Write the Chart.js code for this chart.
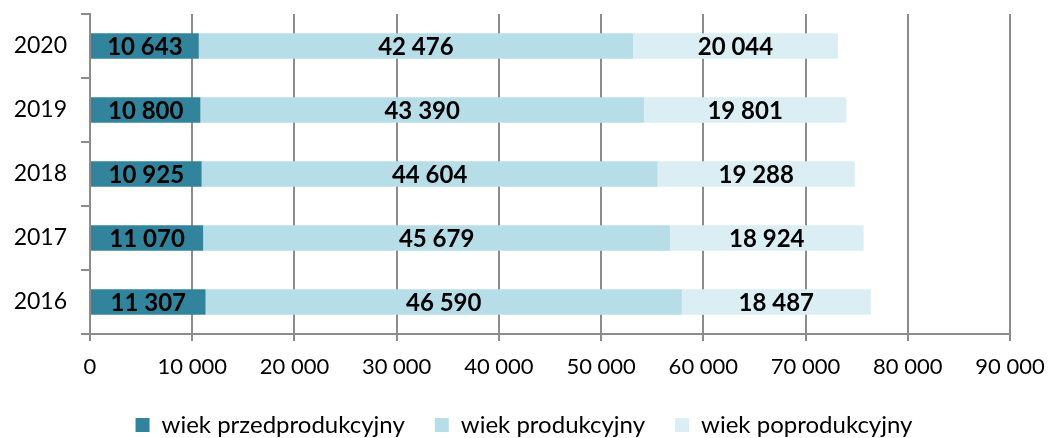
<!DOCTYPE html>
<html>
<head>
<meta charset="utf-8">
<script src="https://cdn.jsdelivr.net/npm/chart.js@4/dist/chart.umd.min.js"></script>
<style>
  body { margin: 0; background: #fff; }
  #wrap { width: 1048px; height: 438px; }
</style>
</head>
<body>
<div id="wrap"><canvas id="ov"></canvas></div>
<script>
let years = ["2020", "2019", "2018", "2017", "2016"];
let przed = [10643, 10800, 10925, 11070, 11307];
let prod = [42476, 43390, 44604, 45679, 46590];
let poprod = [20044, 19801, 19288, 18924, 18487];
let seriesNames = ["wiek przedprodukcyjny", "wiek produkcyjny", "wiek poprodukcyjny"];

let fontName = "Lato, 'Open Sans', sans-serif";
let gridGray = "#8c8c8c";

function fmt(n) {
  return String(n).replace(/\B(?=(\d{3})+(?!\d))/g, " ");
}

// draws the value in the middle of each bar segment
let barLabels = {
  id: "barLabels",
  afterDatasetsDraw(chart) {
    let c = chart.ctx;
    c.save();
    c.font = "bold 24px " + fontName;
    c.fillStyle = "#000";
    c.textAlign = "center";
    c.textBaseline = "middle";
    chart.data.datasets.forEach((ds, i) => {
      chart.getDatasetMeta(i).data.forEach((bar, j) => {
        let mid = (bar.x + bar.base) / 2;
        c.fillText(fmt(ds.data[j]), mid, bar.y + 1);
      });
    });
    c.restore();
  }
};

let ctx = document.getElementById("ov").getContext("2d");
let myChart = new Chart(ctx, {
  type: "bar",
  data: {
    labels: years,
    datasets: [
      { label: seriesNames[0], data: przed, backgroundColor: "#31849B" },
      { label: seriesNames[1], data: prod, backgroundColor: "#B7DDE8" },
      { label: seriesNames[2], data: poprod, backgroundColor: "#DAEEF3" }
    ]
  },
  options: {
    indexAxis: "y",
    responsive: true,
    maintainAspectRatio: false,
    animation: false,
    categoryPercentage: 1,
    barPercentage: 0.4,
    layout: { padding: { top: 14, right: 0, left: 0, bottom: -9 } },
    scales: {
      x: {
        stacked: true,
        min: 0,
        max: 90000,
        ticks: {
          stepSize: 10000,
          color: "#000",
          padding: 13,
          font: { family: fontName, size: 22 },
          callback: (v) => fmt(v)
        },
        grid: { color: gridGray, lineWidth: 2, tickLength: 7 },
        border: { color: gridGray, width: 2 },
        afterFit: (s) => { s.height = 49; s.paddingRight = 38; }
      },
      y: {
        stacked: true,
        ticks: {
          color: "#000",
          padding: 14,
          font: { family: fontName, size: 23 }
        },
        grid: { drawOnChartArea: false, color: gridGray, lineWidth: 2, tickLength: 9 },
        border: { color: gridGray, width: 2 },
        afterFit: (s) => { s.width = 90; s.paddingTop = 0; s.paddingBottom = 0; }
      }
    },
    plugins: {
      legend: {
        position: "bottom",
        labels: {
          color: "#000",
          boxWidth: 14,
          boxHeight: 14,
          padding: 30,
          font: { family: fontName, size: 24 }
        }
      },
      tooltip: { enabled: false }
    }
  },
  plugins: [barLabels]
});
</script>
</body>
</html>
